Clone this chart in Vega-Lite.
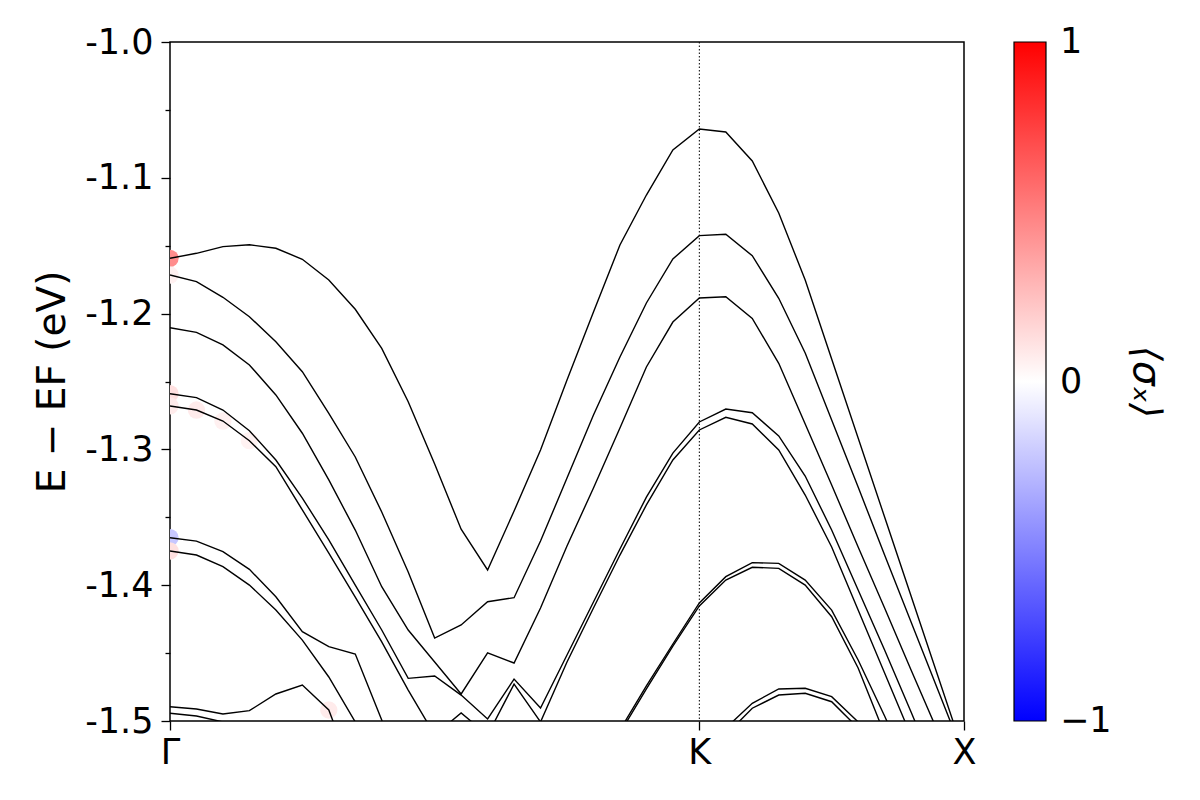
{
  "$schema": "https://vega.github.io/schema/vega-lite/v6.json",
  "width": 794,
  "height": 679,
  "autosize": {"type": "none"},
  "padding": {"left": 170, "top": 42, "right": 236, "bottom": 79},
  "background": "white",
  "config": {
    "view": {"stroke": "black", "strokeWidth": 1.5},
    "font": "DejaVu Sans",
    "axis": {"labelFont": "DejaVu Sans", "titleFont": "DejaVu Sans", "labelColor": "black", "titleColor": "black", "tickColor": "black", "grid": false, "domain": false, "tickWidth": 1.3}
  },
  "datasets": {
    "spin": [
      {"k": 0, "E": -1.1593, "s": 0.45},
      {"k": 0, "E": -1.1716, "s": 0.06},
      {"k": 0, "E": -1.259, "s": 0.12},
      {"k": 0, "E": -1.268, "s": 0.08},
      {"k": 1, "E": -1.271, "s": 0.08},
      {"k": 2, "E": -1.2791, "s": 0.06},
      {"k": 3, "E": -1.2936, "s": 0.05},
      {"k": 0, "E": -1.365, "s": -0.22},
      {"k": 0, "E": -1.3748, "s": 0.12},
      {"k": 6, "E": -1.4919, "s": 0.08}
    ],
    "bands": [
      {"b": "A", "k": 0, "E": -1.1593}, {"b": "A", "k": 1, "E": -1.1556}, {"b": "A", "k": 2, "E": -1.1507}, {"b": "A", "k": 3, "E": -1.1493}, {"b": "A", "k": 4, "E": -1.1519}, {"b": "A", "k": 5, "E": -1.16}, {"b": "A", "k": 6, "E": -1.1753}, {"b": "A", "k": 7, "E": -1.1968}, {"b": "A", "k": 8, "E": -1.2256}, {"b": "A", "k": 9, "E": -1.2649}, {"b": "A", "k": 10, "E": -1.3108}, {"b": "A", "k": 11, "E": -1.3588}, {"b": "A", "k": 12, "E": -1.3888}, {"b": "A", "k": 13, "E": -1.3454}, {"b": "A", "k": 14, "E": -1.3004}, {"b": "A", "k": 15, "E": -1.2489}, {"b": "A", "k": 16, "E": -1.1988}, {"b": "A", "k": 17, "E": -1.1495}, {"b": "A", "k": 18, "E": -1.1127}, {"b": "A", "k": 19, "E": -1.0795}, {"b": "A", "k": 20, "E": -1.0641}, {"b": "A", "k": 21, "E": -1.0663}, {"b": "A", "k": 22, "E": -1.0876}, {"b": "A", "k": 23, "E": -1.1259}, {"b": "A", "k": 24, "E": -1.1753}, {"b": "A", "k": 25, "E": -1.2334}, {"b": "A", "k": 26, "E": -1.2916}, {"b": "A", "k": 27, "E": -1.3498}, {"b": "A", "k": 28, "E": -1.408}, {"b": "A", "k": 29, "E": -1.4661}, {"b": "A", "k": 30, "E": -1.5243},
      {"b": "B", "k": 0, "E": -1.1716}, {"b": "B", "k": 1, "E": -1.1765}, {"b": "B", "k": 2, "E": -1.188}, {"b": "B", "k": 3, "E": -1.2023}, {"b": "B", "k": 4, "E": -1.2207}, {"b": "B", "k": 5, "E": -1.2428}, {"b": "B", "k": 6, "E": -1.2734}, {"b": "B", "k": 7, "E": -1.3056}, {"b": "B", "k": 8, "E": -1.3461}, {"b": "B", "k": 9, "E": -1.3903}, {"b": "B", "k": 10, "E": -1.4389}, {"b": "B", "k": 11, "E": -1.4293}, {"b": "B", "k": 12, "E": -1.4122}, {"b": "B", "k": 13, "E": -1.4092}, {"b": "B", "k": 14, "E": -1.3675}, {"b": "B", "k": 15, "E": -1.3211}, {"b": "B", "k": 16, "E": -1.2747}, {"b": "B", "k": 17, "E": -1.232}, {"b": "B", "k": 18, "E": -1.1922}, {"b": "B", "k": 19, "E": -1.1598}, {"b": "B", "k": 20, "E": -1.1426}, {"b": "B", "k": 21, "E": -1.1416}, {"b": "B", "k": 22, "E": -1.1574}, {"b": "B", "k": 23, "E": -1.1887}, {"b": "B", "k": 24, "E": -1.229}, {"b": "B", "k": 25, "E": -1.2784}, {"b": "B", "k": 26, "E": -1.3277}, {"b": "B", "k": 27, "E": -1.3778}, {"b": "B", "k": 28, "E": -1.4271}, {"b": "B", "k": 29, "E": -1.4764}, {"b": "B", "k": 30, "E": -1.5258},
      {"b": "C", "k": 0, "E": -1.2104}, {"b": "C", "k": 1, "E": -1.2138}, {"b": "C", "k": 2, "E": -1.2231}, {"b": "C", "k": 3, "E": -1.2378}, {"b": "C", "k": 4, "E": -1.2599}, {"b": "C", "k": 5, "E": -1.2881}, {"b": "C", "k": 6, "E": -1.3225}, {"b": "C", "k": 7, "E": -1.3594}, {"b": "C", "k": 8, "E": -1.4011}, {"b": "C", "k": 9, "E": -1.433}, {"b": "C", "k": 10, "E": -1.4566}, {"b": "C", "k": 11, "E": -1.4801}, {"b": "C", "k": 12, "E": -1.4499}, {"b": "C", "k": 13, "E": -1.4573}, {"b": "C", "k": 14, "E": -1.4168}, {"b": "C", "k": 15, "E": -1.3711}, {"b": "C", "k": 16, "E": -1.3284}, {"b": "C", "k": 17, "E": -1.2842}, {"b": "C", "k": 18, "E": -1.2393}, {"b": "C", "k": 19, "E": -1.2062}, {"b": "C", "k": 20, "E": -1.1885}, {"b": "C", "k": 21, "E": -1.1876}, {"b": "C", "k": 22, "E": -1.2035}, {"b": "C", "k": 23, "E": -1.2366}, {"b": "C", "k": 24, "E": -1.2813}, {"b": "C", "k": 25, "E": -1.3262}, {"b": "C", "k": 26, "E": -1.3719}, {"b": "C", "k": 27, "E": -1.4168}, {"b": "C", "k": 28, "E": -1.4624}, {"b": "C", "k": 29, "E": -1.5074}, {"b": "C", "k": 30, "E": -1.553},
      {"b": "D1", "k": 0, "E": -1.259}, {"b": "D1", "k": 1, "E": -1.2619}, {"b": "D1", "k": 2, "E": -1.271}, {"b": "D1", "k": 3, "E": -1.2862}, {"b": "D1", "k": 4, "E": -1.3078}, {"b": "D1", "k": 5, "E": -1.3358}, {"b": "D1", "k": 6, "E": -1.3667}, {"b": "D1", "k": 7, "E": -1.3999}, {"b": "D1", "k": 8, "E": -1.433}, {"b": "D1", "k": 9, "E": -1.4686}, {"b": "D1", "k": 10, "E": -1.4669}, {"b": "D1", "k": 11, "E": -1.4809}, {"b": "D1", "k": 12, "E": -1.4985}, {"b": "D1", "k": 13, "E": -1.4691}, {"b": "D1", "k": 14, "E": -1.4904}, {"b": "D1", "k": 15, "E": -1.4514}, {"b": "D1", "k": 16, "E": -1.4124}, {"b": "D1", "k": 17, "E": -1.3733}, {"b": "D1", "k": 18, "E": -1.3351}, {"b": "D1", "k": 19, "E": -1.3027}, {"b": "D1", "k": 20, "E": -1.2798}, {"b": "D1", "k": 21, "E": -1.2703}, {"b": "D1", "k": 22, "E": -1.273}, {"b": "D1", "k": 23, "E": -1.2901}, {"b": "D1", "k": 24, "E": -1.3196}, {"b": "D1", "k": 25, "E": -1.3594}, {"b": "D1", "k": 26, "E": -1.4035}, {"b": "D1", "k": 27, "E": -1.4477}, {"b": "D1", "k": 28, "E": -1.4934}, {"b": "D1", "k": 29, "E": -1.5398}, {"b": "D1", "k": 30, "E": -1.5876},
      {"b": "D2", "k": 0, "E": -1.268}, {"b": "D2", "k": 1, "E": -1.271}, {"b": "D2", "k": 2, "E": -1.2791}, {"b": "D2", "k": 3, "E": -1.2936}, {"b": "D2", "k": 4, "E": -1.3127}, {"b": "D2", "k": 5, "E": -1.3446}, {"b": "D2", "k": 6, "E": -1.3763}, {"b": "D2", "k": 7, "E": -1.4087}, {"b": "D2", "k": 8, "E": -1.4418}, {"b": "D2", "k": 9, "E": -1.4772}, {"b": "D2", "k": 10, "E": -1.5103}, {"b": "D2", "k": 11, "E": -1.4941}, {"b": "D2", "k": 12, "E": -1.5103}, {"b": "D2", "k": 13, "E": -1.4728}, {"b": "D2", "k": 14, "E": -1.5007}, {"b": "D2", "k": 15, "E": -1.4566}, {"b": "D2", "k": 16, "E": -1.4168}, {"b": "D2", "k": 17, "E": -1.3778}, {"b": "D2", "k": 18, "E": -1.3409}, {"b": "D2", "k": 19, "E": -1.3078}, {"b": "D2", "k": 20, "E": -1.2857}, {"b": "D2", "k": 21, "E": -1.2764}, {"b": "D2", "k": 22, "E": -1.2813}, {"b": "D2", "k": 23, "E": -1.3004}, {"b": "D2", "k": 24, "E": -1.3336}, {"b": "D2", "k": 25, "E": -1.3719}, {"b": "D2", "k": 26, "E": -1.4183}, {"b": "D2", "k": 27, "E": -1.4647}, {"b": "D2", "k": 28, "E": -1.511}, {"b": "D2", "k": 29, "E": -1.5582}, {"b": "D2", "k": 30, "E": -1.606},
      {"b": "G1", "k": 0, "E": -1.365}, {"b": "G1", "k": 1, "E": -1.3675}, {"b": "G1", "k": 2, "E": -1.3753}, {"b": "G1", "k": 3, "E": -1.3883}, {"b": "G1", "k": 4, "E": -1.4085}, {"b": "G1", "k": 5, "E": -1.4342}, {"b": "G1", "k": 6, "E": -1.4453}, {"b": "G1", "k": 7, "E": -1.4507}, {"b": "G1", "k": 8, "E": -1.4993}, {"b": "G1", "k": 9, "E": -1.5508},
      {"b": "G2", "k": 0, "E": -1.3748}, {"b": "G2", "k": 1, "E": -1.3778}, {"b": "G2", "k": 2, "E": -1.3864}, {"b": "G2", "k": 3, "E": -1.3999}, {"b": "G2", "k": 4, "E": -1.4183}, {"b": "G2", "k": 5, "E": -1.4404}, {"b": "G2", "k": 6, "E": -1.4676}, {"b": "G2", "k": 7, "E": -1.5007}, {"b": "G2", "k": 8, "E": -1.5508},
      {"b": "H1", "k": 0, "E": -1.4895}, {"b": "H1", "k": 1, "E": -1.4912}, {"b": "H1", "k": 2, "E": -1.4948}, {"b": "H1", "k": 3, "E": -1.4924}, {"b": "H1", "k": 4, "E": -1.4801}, {"b": "H1", "k": 5, "E": -1.4735}, {"b": "H1", "k": 6, "E": -1.4919}, {"b": "H1", "k": 7, "E": -1.5435},
      {"b": "H2", "k": 0, "E": -1.4943}, {"b": "H2", "k": 1, "E": -1.4963}, {"b": "H2", "k": 2, "E": -1.5007}, {"b": "H2", "k": 3, "E": -1.5103},
      {"b": "E1", "k": 16, "E": -1.5376}, {"b": "E1", "k": 17, "E": -1.5066}, {"b": "E1", "k": 18, "E": -1.4742}, {"b": "E1", "k": 19, "E": -1.4433}, {"b": "E1", "k": 20, "E": -1.4131}, {"b": "E1", "k": 21, "E": -1.3937}, {"b": "E1", "k": 22, "E": -1.3834}, {"b": "E1", "k": 23, "E": -1.3839}, {"b": "E1", "k": 24, "E": -1.3962}, {"b": "E1", "k": 25, "E": -1.4183}, {"b": "E1", "k": 26, "E": -1.4551}, {"b": "E1", "k": 27, "E": -1.4963}, {"b": "E1", "k": 28, "E": -1.5398},
      {"b": "E2", "k": 16, "E": -1.5405}, {"b": "E2", "k": 17, "E": -1.5088}, {"b": "E2", "k": 18, "E": -1.4764}, {"b": "E2", "k": 19, "E": -1.4448}, {"b": "E2", "k": 20, "E": -1.4153}, {"b": "E2", "k": 21, "E": -1.3962}, {"b": "E2", "k": 22, "E": -1.3868}, {"b": "E2", "k": 23, "E": -1.3876}, {"b": "E2", "k": 24, "E": -1.3999}, {"b": "E2", "k": 25, "E": -1.4232}, {"b": "E2", "k": 26, "E": -1.461}, {"b": "E2", "k": 27, "E": -1.5096},
      {"b": "F1", "k": 20, "E": -1.5471}, {"b": "F1", "k": 21, "E": -1.5052}, {"b": "F1", "k": 22, "E": -1.487}, {"b": "F1", "k": 23, "E": -1.4764}, {"b": "F1", "k": 24, "E": -1.4759}, {"b": "F1", "k": 25, "E": -1.4821}, {"b": "F1", "k": 26, "E": -1.5007}, {"b": "F1", "k": 27, "E": -1.5471},
      {"b": "F2", "k": 20, "E": -1.5508}, {"b": "F2", "k": 21, "E": -1.5103}, {"b": "F2", "k": 22, "E": -1.4906}, {"b": "F2", "k": 23, "E": -1.4809}, {"b": "F2", "k": 24, "E": -1.4796}, {"b": "F2", "k": 25, "E": -1.4858}, {"b": "F2", "k": 26, "E": -1.5052}, {"b": "F2", "k": 27, "E": -1.5508}
    ],
    "kline": [{"k": 20}]
  },
  "layer": [
    {
      "data": {"name": "spin"},
      "mark": {"type": "circle", "size": 300, "opacity": 1, "clip": true},
      "encoding": {
        "x": {"field": "k", "type": "quantitative", "scale": {"domain": [0, 30], "nice": false, "zero": false},
          "axis": {"values": [0, 20, 30], "labelExpr": "datum.value == 0 ? 'Γ' : datum.value == 20 ? 'K' : 'X'", "labelFontSize": 35, "tickSize": 9, "labelPadding": 5, "title": null, "labelFlush": false}},
        "y": {"field": "E", "type": "quantitative", "scale": {"domain": [-1.5, -1.0], "nice": false, "zero": false},
          "axis": {"values": [-1.5, -1.45, -1.4, -1.35, -1.3, -1.25, -1.2, -1.15, -1.1, -1.05, -1.0],
            "labelExpr": "abs(datum.value*10 - round(datum.value*10)) < 0.001 ? replace(format(datum.value, '.1f'), '−', '-') : ''",
            "tickSize": {"condition": {"test": "abs(datum.value*10 - round(datum.value*10)) < 0.001", "value": 9}, "value": 5},
            "labelFontSize": 35, "labelPadding": 8, "labelFlush": false,
            "title": "E − EF (eV)", "titleFontSize": 39, "titleFontWeight": "normal", "titlePadding": 12}},
        "color": {"field": "s", "type": "quantitative",
          "scale": {"domain": [-1, 0, 1], "range": ["#0000ff", "#ffffff", "#ff0000"], "interpolate": "rgb"},
          "legend": {"orient": "none", "legendX": 844, "legendY": 0, "direction": "vertical", "gradientLength": 679, "gradientThickness": 32,
            "gradientStrokeColor": "black", "gradientStrokeWidth": 1.2, "values": [-0.9999, 0, 0.9999],
            "labelExpr": "datum.value < -0.5 ? '−1' : datum.value > 0.5 ? '1' : '0'",
            "labelBaseline": "middle",
            "labelFontSize": 35, "labelFont": "DejaVu Sans", "labelColor": "black", "labelOffset": 14,
            "title": "⟨σₓ⟩", "titleOrient": "right", "titleAngle": 270, "titleFontSize": 39, "titleFontWeight": "normal", "titleFontStyle": "italic", "titleColor": "black", "titleFont": "DejaVu Sans", "titlePadding": 14}}
      }
    },
    {
      "data": {"name": "kline"},
      "mark": {"type": "rule", "color": "black", "strokeWidth": 1, "strokeDash": [1.5, 2]},
      "encoding": {"x": {"field": "k", "type": "quantitative"}}
    },
    {
      "data": {"name": "bands"},
      "mark": {"type": "line", "color": "black", "strokeWidth": 1.4, "clip": true},
      "encoding": {
        "x": {"field": "k", "type": "quantitative"},
        "y": {"field": "E", "type": "quantitative"},
        "detail": {"field": "b", "type": "nominal"},
        "order": {"field": "k", "type": "quantitative"}
      }
    }
  ]
}
